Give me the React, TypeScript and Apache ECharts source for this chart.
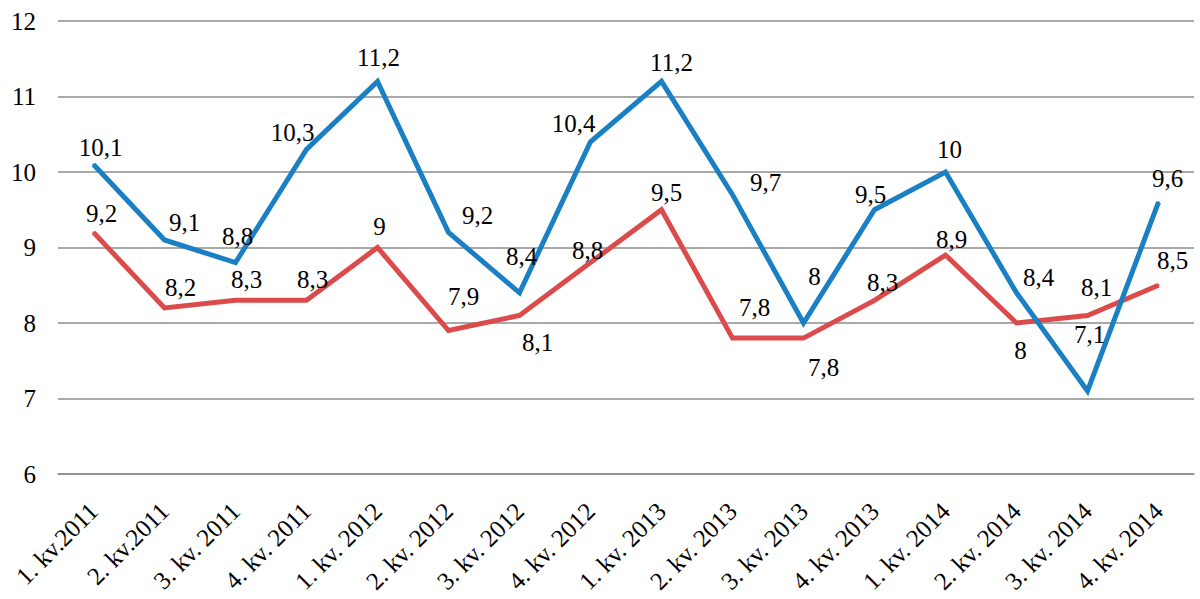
import React, { useEffect, useRef } from "react";
import * as echarts from "echarts";

const categories = [
  "1. kv.2011", "2. kv.2011", "3. kv. 2011", "4. kv. 2011",
  "1. kv. 2012", "2. kv. 2012", "3. kv. 2012", "4. kv. 2012",
  "1. kv. 2013", "2. kv. 2013", "3. kv. 2013", "4. kv. 2013",
  "1. kv. 2014", "2. kv. 2014", "3. kv. 2014", "4. kv. 2014",
];
const blueValues = [10.1, 9.1, 8.8, 10.3, 11.2, 9.2, 8.4, 10.4, 11.2, 9.7, 8.0, 9.5, 10.0, 8.4, 7.1, 9.6];
const redValues = [9.2, 8.2, 8.3, 8.3, 9.0, 7.9, 8.1, 8.8, 9.5, 7.8, 7.8, 8.3, 8.9, 8.0, 8.1, 8.5];
const yTicks = { min: 6, max: 12, interval: 1 };

// label placement offsets (layout only)
const blueLabelOffsets = [
  [7, -17], [20, -17], [2, -26], [-14, -17], [1, -24], [29, -17], [2, -36], [-17, -18],
  [10, -19], [33, -12], [11, -47], [-4, -15], [4, -23], [22, -15], [2, -56], [9, -24],
];
const redLabelOffsets = [
  [8, -19], [16, -20], [11, -21], [6, -21], [2, -21], [15, -34], [18, 27], [-3, -12],
  [5, -17], [22, -31], [20, 29], [8, -18], [6, -16], [4, 27], [9, -28], [14, -25],
];

const FONT = "serif";
const fmt = (v: number) => String(v).replace(".", ",");

function buildData(values: number[], offsets: number[][]) {
  return values.map((v, i) => ({
    value: v,
    label: { offset: offsets[i] },
  }));
}

export default function App() {
  const ref = useRef<HTMLDivElement>(null);
  useEffect(() => {
    if (!ref.current) return;
    const chart = echarts.init(ref.current, undefined, { renderer: "svg" });
    const labelBase = {
      show: true,
      position: "inside",
      align: "center",
      verticalAlign: "middle",
      color: "#000",
      fontFamily: FONT,
      fontSize: 25,
      formatter: (p: any) => fmt(p.value),
    };
    chart.setOption({
      animation: false,
      textStyle: { fontFamily: FONT },
      grid: { left: 58, right: 6, top: 21, bottom: 125, containLabel: false },
      xAxis: {
        type: "category",
        data: categories,
        boundaryGap: true,
        axisLine: { show: true, lineStyle: { color: "#8c8c8c", width: 1.5 } },
        axisTick: { show: false },
        axisLabel: {
          rotate: 45,
          interval: 0,
          margin: 33,
          color: "#000",
          fontFamily: FONT,
          fontSize: 25,
        },
      },
      yAxis: {
        type: "value",
        min: yTicks.min,
        max: yTicks.max,
        interval: yTicks.interval,
        axisLine: { show: false },
        axisTick: { show: false },
        splitLine: { lineStyle: { color: "#8c8c8c", width: 1.5 } },
        axisLabel: {
          margin: 22,
          color: "#000",
          fontFamily: FONT,
          fontSize: 25,
        },
      },
      series: [
        {
          type: "line",
          data: buildData(blueValues, blueLabelOffsets),
          symbol: "circle",
          symbolSize: 2,
          lineStyle: { color: "#1b80c3", width: 5, join: "miter" },
          itemStyle: { color: "#1b80c3" },
          label: labelBase,
          z: 3,
        },
        {
          type: "line",
          data: buildData(redValues, redLabelOffsets),
          symbol: "circle",
          symbolSize: 2,
          lineStyle: { color: "#dc4b4b", width: 5, join: "miter" },
          itemStyle: { color: "#dc4b4b" },
          label: labelBase,
          z: 2,
        },
      ],
    });
    return () => chart.dispose();
  }, []);
  return (
    <div
      ref={ref}
      style={{ position: "absolute", left: 0, top: 0, width: 1200, height: 599, background: "#fff" }}
    />
  );
}
